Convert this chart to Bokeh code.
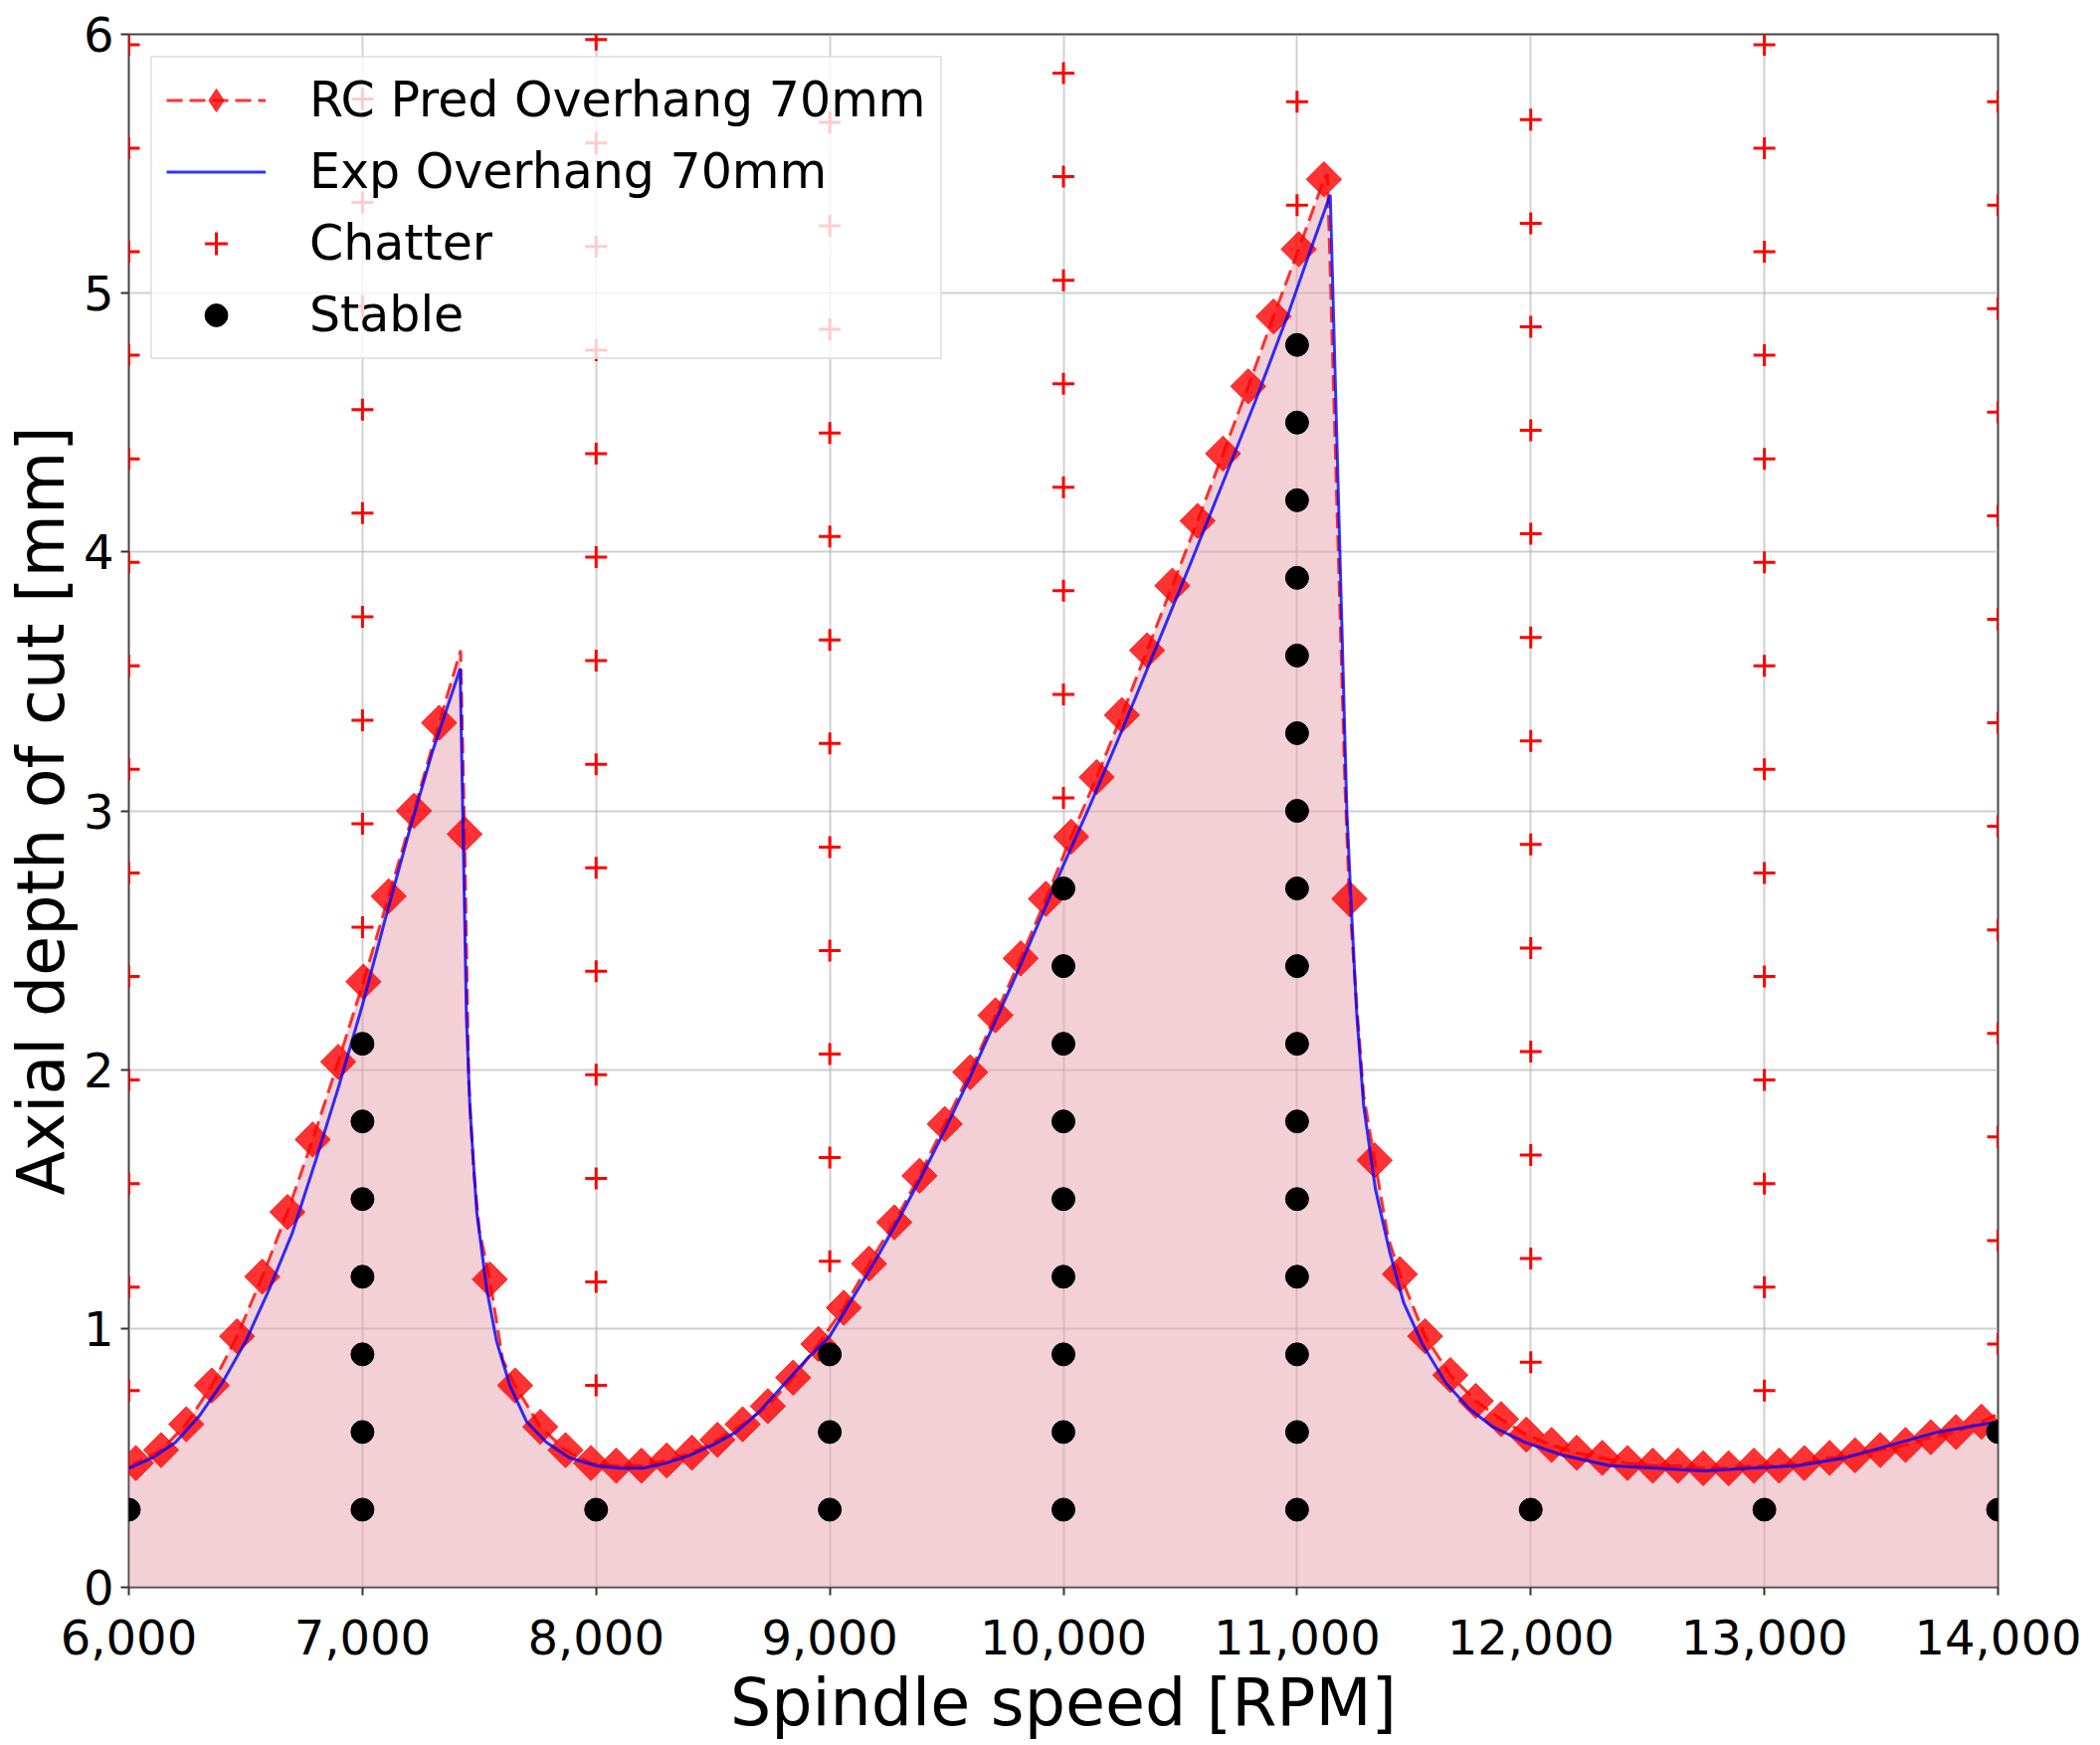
import numpy as np
from bokeh.plotting import figure
from bokeh.models import NumeralTickFormatter, FixedTicker, Range1d
from bokeh.embed import file_html
from bokeh.resources import INLINE

# RC prediction, marker points
rc_x = [6030, 6138, 6246, 6355, 6463, 6571, 6679, 6787, 6896, 7004,
        7112, 7220, 7328, 7437, 7545, 7653, 7761, 7869, 7978, 8086,
        8194, 8302, 8410, 8519, 8627, 8735, 8843, 8951, 9060, 9168,
        9276, 9384, 9492, 9601, 9709, 9817, 9925, 10033, 10142, 10250,
        10358, 10466, 10574, 10683, 10791, 10899, 11007, 11115, 11224, 11332,
        11440, 11548, 11656, 11765, 11873, 11981, 12089, 12197, 12306, 12414,
        12522, 12630, 12738, 12847, 12955, 13063, 13171, 13279, 13388, 13496,
        13604, 13712, 13820, 13929]
rc_y = [0.48, 0.53, 0.63, 0.78, 0.97, 1.20, 1.45, 1.73, 2.03, 2.34,
        2.67, 3.00, 3.34, 2.91, 1.19, 0.78, 0.62, 0.53, 0.48, 0.47,
        0.47, 0.49, 0.52, 0.57, 0.63, 0.70, 0.81, 0.94, 1.08, 1.25,
        1.41, 1.59, 1.79, 1.99, 2.21, 2.43, 2.66, 2.90, 3.13, 3.37,
        3.62, 3.87, 4.12, 4.38, 4.64, 4.91, 5.17, 5.44, 2.66, 1.65,
        1.21, 0.97, 0.82, 0.72, 0.65, 0.59, 0.55, 0.52, 0.50, 0.48,
        0.47, 0.47, 0.46, 0.46, 0.47, 0.47, 0.48, 0.50, 0.51, 0.53,
        0.55, 0.58, 0.60, 0.64]

# points of the dashed RC line between the markers (ends, peaks, drops)
rc_extra_x = [6000, 7420, 7455, 7475, 7500, 7600, 11130, 11205, 11255, 11285, 11390, 14000]
rc_extra_y = [0.46, 3.62, 1.95, 1.62, 1.38, 0.88, 5.46, 3.10, 2.25, 1.90, 1.35, 0.67]

# experimental stability lobe
exp_x = [6000, 6100, 6200, 6300, 6400, 6500, 6600, 6700, 6800, 6900,
         7000, 7100, 7200, 7300, 7400, 7418, 7445, 7460, 7489, 7532,
         7574, 7631, 7702, 7787, 7887, 8000, 8100, 8200, 8300, 8400,
         8500, 8600, 8700, 8800, 8900, 9000, 9100, 9200, 9300, 9400,
         9500, 9600, 9700, 9800, 9900, 10000, 10113, 10255, 10396, 10537,
         10679, 10820, 10962, 11047, 11142, 11213, 11231, 11255, 11285, 11335,
         11395, 11456, 11536, 11636, 11737, 11837, 11977, 12138, 12339, 12539,
         12740, 12941, 13141, 13342, 13543, 13743, 14000]
exp_y = [0.46, 0.50, 0.56, 0.66, 0.79, 0.95, 1.15, 1.37, 1.65, 1.94,
         2.25, 2.59, 2.92, 3.23, 3.50, 3.55, 2.20, 1.85, 1.45, 1.15,
         0.95, 0.78, 0.64, 0.56, 0.50, 0.47, 0.46, 0.46, 0.48, 0.51,
         0.55, 0.60, 0.68, 0.78, 0.88, 0.97, 1.12, 1.27, 1.43, 1.60,
         1.78, 1.97, 2.17, 2.37, 2.58, 2.79, 3.02, 3.32, 3.63, 3.94,
         4.26, 4.58, 4.92, 5.14, 5.38, 3.00, 2.65, 2.22, 1.86, 1.54,
         1.30, 1.10, 0.94, 0.79, 0.69, 0.62, 0.56, 0.51, 0.47, 0.46,
         0.45, 0.46, 0.47, 0.50, 0.55, 0.60, 0.64]

# cutting tests
test_speeds = [6000, 7000, 8000, 9000, 10000, 11000, 12000, 13000, 14000]
chatter_depths = [
    [0.76, 1.16, 1.56, 1.96, 2.36, 2.76, 3.16, 3.56, 3.96, 4.36, 4.76, 5.16, 5.56, 5.96],
    [2.55, 2.95, 3.35, 3.75, 4.15, 4.55, 4.95, 5.35, 5.75],
    [0.78, 1.18, 1.58, 1.98, 2.38, 2.78, 3.18, 3.58, 3.98, 4.38, 4.78, 5.18, 5.58, 5.98],
    [1.26, 1.66, 2.06, 2.46, 2.86, 3.26, 3.66, 4.06, 4.46, 4.86, 5.26, 5.66],
    [3.05, 3.45, 3.85, 4.25, 4.65, 5.05, 5.45, 5.85],
    [5.34, 5.74],
    [0.87, 1.27, 1.67, 2.07, 2.47, 2.87, 3.27, 3.67, 4.07, 4.47, 4.87, 5.27, 5.67],
    [0.76, 1.16, 1.56, 1.96, 2.36, 2.76, 3.16, 3.56, 3.96, 4.36, 4.76, 5.16, 5.56, 5.96],
    [0.94, 1.34, 1.74, 2.14, 2.54, 2.94, 3.34, 3.74, 4.14, 4.54, 4.94, 5.34, 5.74],
]
stable_depths = [
    [0.3],
    [0.3, 0.6, 0.9, 1.2, 1.5, 1.8, 2.1],
    [0.3],
    [0.3, 0.6, 0.9],
    [0.3, 0.6, 0.9, 1.2, 1.5, 1.8, 2.1, 2.4, 2.7],
    [0.3, 0.6, 0.9, 1.2, 1.5, 1.8, 2.1, 2.4, 2.7, 3.0, 3.3, 3.6, 3.9, 4.2, 4.5, 4.8],
    [0.3],
    [0.3],
    [0.3, 0.6],
]

# dashed line = markers + extra points, sorted by speed
pairs = sorted(zip(rc_x + rc_extra_x, rc_y + rc_extra_y))
line_x = [a for a, b in pairs]
line_y = [b for a, b in pairs]

ch_x = [s for s, d in zip(test_speeds, chatter_depths) for _ in d]
ch_y = [v for d in chatter_depths for v in d]
st_x = [s for s, d in zip(test_speeds, stable_depths) for _ in d]
st_y = [v for d in stable_depths for v in d]

FONT = "DejaVu Sans"
RC_LABEL = "RC Pred Overhang 70mm"

p = figure(frame_width=1879, frame_height=1561,
           min_border_left=129, min_border_right=87, min_border_top=34, min_border_bottom=0,
           x_range=Range1d(6000, 14000), y_range=Range1d(0, 6),
           x_axis_label="Spindle speed [RPM]", y_axis_label="Axial depth of cut [mm]",
           output_backend="svg", toolbar_location=None)

p.varea(x=line_x, y1=0, y2=line_y, fill_color="#e8a2ab", fill_alpha=0.5)

p.line(line_x, line_y, line_color="red", line_width=3, line_dash="16 7", line_alpha=0.8,
       legend_label=RC_LABEL)
# diamonds on the plot: rotated squares (same width and height)
p.scatter(rc_x, rc_y, marker="square", angle=np.pi / 4, size=25,
          fill_color="red", fill_alpha=0.8, line_color="red", line_alpha=0.8)
# legend only (size 0 on the plot): the legend does not rotate markers
p.scatter(rc_x, rc_y, marker="diamond", size=0,
          fill_color="red", fill_alpha=0.8, line_color="red", line_alpha=0.8,
          legend_label=RC_LABEL)
p.line(exp_x, exp_y, line_color="blue", line_width=3, line_alpha=0.8,
       legend_label="Exp Overhang 70mm")
p.scatter(ch_x, ch_y, marker="cross", size=22, line_color="red", line_width=3,
          legend_label="Chatter")
p.scatter(st_x, st_y, marker="circle", size=23, fill_color="black", line_color="black",
          legend_label="Stable")

p.xaxis.ticker = FixedTicker(ticks=test_speeds)
p.xaxis.formatter = NumeralTickFormatter(format="0,0")
p.yaxis.ticker = FixedTicker(ticks=[0, 1, 2, 3, 4, 5, 6])

for ax in (p.xaxis[0], p.yaxis[0]):
    ax.axis_line_color = None
    ax.major_tick_out = 8
    ax.major_tick_in = 0
    ax.major_tick_line_color = "#333333"
    ax.major_tick_line_width = 2
    ax.minor_tick_line_color = None
    ax.major_label_text_font = FONT
    ax.major_label_text_font_size = "48px"
    ax.major_label_text_color = "black"
    ax.axis_label_text_font = FONT
    ax.axis_label_text_font_size = "65px"
    ax.axis_label_text_font_style = "normal"
    ax.axis_label_text_color = "black"

p.xaxis.major_label_standoff = 24
p.xaxis.axis_label_standoff = 8
p.yaxis.major_label_standoff = 7
p.yaxis.axis_label_standoff = 2

p.outline_line_color = "#444444"
p.outline_line_width = 2
p.grid.grid_line_color = "#b0b0b0"
p.grid.grid_line_alpha = 0.6
p.grid.grid_line_width = 2
p.background_fill_color = "white"

p.legend.location = "top_left"
p.legend.margin = 22
p.legend.padding = 14
p.legend.spacing = 15
p.legend.glyph_width = 100
p.legend.glyph_height = 57
p.legend.label_standoff = 44
p.legend.label_text_font = FONT
p.legend.label_text_font_size = "49px"
p.legend.label_text_color = "black"
p.legend.background_fill_alpha = 0.8
p.legend.border_line_color = "#cccccc"
p.legend.border_line_width = 2

open("out.html", "w").write(file_html(p, INLINE))
